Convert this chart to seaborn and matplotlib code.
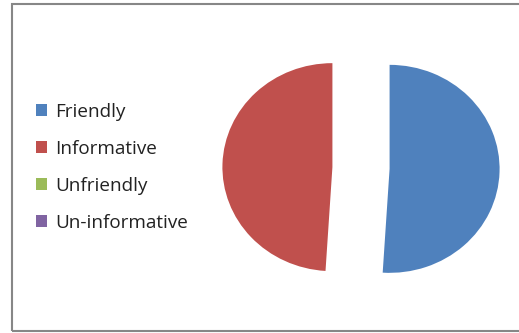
import matplotlib
matplotlib.use("Agg")
import matplotlib.pyplot as plt
import seaborn as sns
from matplotlib.patches import Rectangle, Patch

categories = ["Friendly", "Informative", "Unfriendly", "Un-informative"]
values = [51, 49, 0, 0]
colors = ["#4F81BD", "#C0504D", "#9BBB59", "#8064A2"]

sns.set_theme(style="white")
plt.rcParams['font.family'] = ['Open Sans', 'DejaVu Sans']

fig = plt.figure(figsize=(5.19, 3.33), dpi=100)
fig.patch.set_facecolor("white")

ax = fig.add_axes([196/519, 9/333, 330/519, 312/333])
ax.pie(values, colors=colors, startangle=90, counterclock=False,
       explode=[0.26, 0.26, 0, 0], radius=1.0, frame=False,
       wedgeprops=dict(linewidth=0))
ax.set_aspect('auto')
ax.set_xlim(-1.5, 1.5)
ax.set_ylim(-1.5, 1.5)
ax.axis('off')

# outer chart border
fig.add_artist(Rectangle((12/519, 2/333), 520/519, 327/333, transform=fig.transFigure,
                         fill=False, edgecolor="#878787", linewidth=1.5, clip_on=False))

handles = [Patch(facecolor=c, edgecolor='none') for c in colors]
fig.legend(handles, categories, loc='upper left', bbox_to_anchor=(36/519, 1 - 103/333),
           frameon=False, fontsize=13.6, handlelength=0.6, handleheight=0.6,
           handletextpad=0.42, labelspacing=1.0, borderaxespad=0, borderpad=0,
           labelcolor="#222222")

fig.savefig("out.png", dpi=100)
